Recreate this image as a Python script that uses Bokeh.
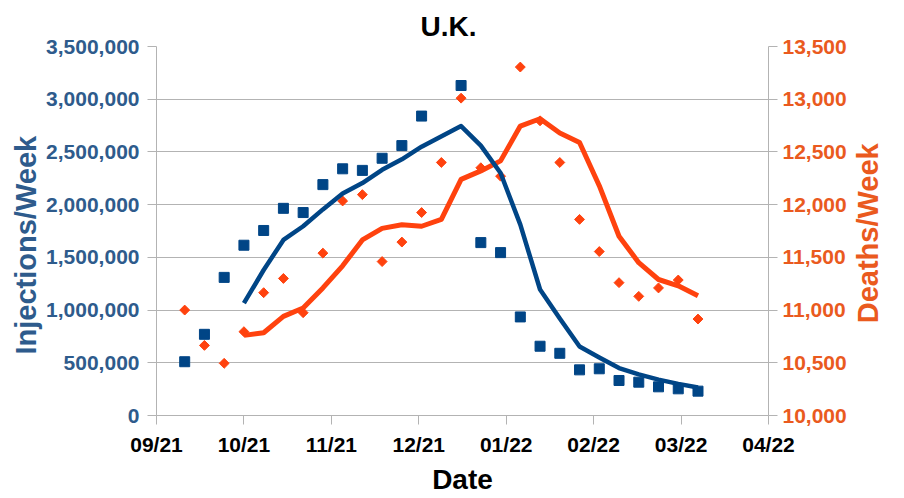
from datetime import date
import numpy as np
from bokeh.plotting import figure
from bokeh.models import Range1d, LinearAxis, FixedTicker, NumeralTickFormatter, Title
from bokeh.embed import file_html
from bokeh.resources import INLINE

# ---------------- data ----------------
axis_start = "2021-09-01"
axis_step_days = 31
x_tick_labels = ["09/21", "10/21", "11/21", "12/21", "01/22", "02/22", "03/22", "04/22"]

week_dates = [
    "2021-09-11", "2021-09-18", "2021-09-25", "2021-10-02", "2021-10-09", "2021-10-16",
    "2021-10-23", "2021-10-30", "2021-11-06", "2021-11-13", "2021-11-20", "2021-11-27",
    "2021-12-04", "2021-12-11", "2021-12-18", "2021-12-25", "2022-01-01", "2022-01-08",
    "2022-01-15", "2022-01-22", "2022-01-29", "2022-02-05", "2022-02-12", "2022-02-19",
    "2022-02-26", "2022-03-05", "2022-03-12",
]

injections = [
    510000, 770000, 1310000, 1615000, 1755000, 1965000,
    1925000, 2190000, 2340000, 2325000, 2440000, 2560000,
    2840000, None, 3130000, 1640000, 1545000, 935000,
    657000, 590000, 433000, 443000, 332000, 316000,
    272000, 253000, 231000,
]

injections_trend = [
    None, None, None, 1065000, 1380000, 1665000,
    1795000, 1955000, 2105000, 2205000, 2330000, 2430000,
    2550000, None, 2745000, 2560000, 2300000, 1810000,
    1195000, 920000, 655000, 550000, 450000, 390000,
    340000, 300000, 265000,
]

deaths = [
    11000, 10665, 10495, 10795, 11165, 11300,
    10975, 11540, 12035, 12095, 11460, 11645,
    11925, 12400, 13010, 12350, 12270, 13305,
    12795, 12400, 11860, 11555, 11260, 11130,
    11210, 11285, 10915,
]

deaths_trend = [
    None, None, None, 10760, 10785, 10940,
    11020, 11210, 11420, 11665, 11775, 11810,
    11795, 11860, 12240, 12320, 12415, 12745,
    12815, 12680, 12590, 12180, 11700, 11450,
    11290, 11230, 11135,
]

inj_ticks = [0, 500000, 1000000, 1500000, 2000000, 2500000, 3000000, 3500000]
death_ticks = [10000, 10500, 11000, 11500, 12000, 12500, 13000, 13500]

title_text = "U.K."
x_title = "Date"
y_left_title = "Injections/Week"
y_right_title = "Deaths/Week"

# ---------------- helpers ----------------
start = date.fromisoformat(axis_start)
days = [(date.fromisoformat(d) - start).days for d in week_dates]
x_ticks = [i * axis_step_days for i in range(len(x_tick_labels))]


def pairs(xs, ys):
    sel = [(x, y) for x, y in zip(xs, ys) if y is not None]
    return [a for a, _ in sel], [b for _, b in sel]


BLUE = "#004586"
ORANGE = "#ff420e"
BLUE_TXT = "#2e5b8c"
ORANGE_TXT = "#ea5a1e"
GRID = "#b3b3b3"
FONT = "Liberation Sans"

p = figure(width=903, height=497,
           x_range=Range1d(x_ticks[0], x_ticks[-1]),
           y_range=Range1d(inj_ticks[0], inj_ticks[-1]),
           output_backend="svg", toolbar_location=None,
           min_border_left=156, min_border_right=135,
           min_border_top=46, min_border_bottom=82)
p.extra_y_ranges = {"deaths": Range1d(death_ticks[0], death_ticks[-1])}
p.outline_line_color = None
p.background_fill_color = "white"
p.border_fill_color = "white"

# title
p.title.text = title_text
p.title.align = "left"
p.title.offset = 264
p.title.vertical_align = "top"
p.title.standoff = 6
p.title.text_font = FONT
p.title.text_font_size = "28px"
p.title.text_font_style = "bold"
p.title.text_color = "black"

# axes
right_axis = LinearAxis(y_range_name="deaths")
p.add_layout(right_axis, "right")

xa = p.xaxis[0]
xa.ticker = FixedTicker(ticks=x_ticks)
xa.major_label_overrides = {t: l for t, l in zip(x_ticks, x_tick_labels)}
xa.major_label_text_color = "black"
xa.axis_label = x_title
xa.axis_label_text_color = "black"

ya = p.yaxis[0]
ya.ticker = FixedTicker(ticks=inj_ticks)
ya.formatter = NumeralTickFormatter(format="0,0")
ya.major_label_text_color = BLUE_TXT

right_axis.ticker = FixedTicker(ticks=death_ticks)
right_axis.formatter = NumeralTickFormatter(format="0,0")
right_axis.major_label_text_color = ORANGE_TXT

for ax in (xa, ya, right_axis):
    ax.axis_line_color = GRID
    ax.axis_line_width = 1
    ax.major_tick_line_color = GRID
    ax.major_tick_out = 9
    ax.major_tick_in = 0
    ax.minor_tick_line_color = None
    ax.major_label_text_font = FONT
    ax.major_label_text_font_size = "21px"
    ax.major_label_text_font_style = "bold"
    ax.axis_label_text_font = FONT
    ax.axis_label_text_font_size = "28px"
    ax.axis_label_text_font_style = "bold"

ya.major_label_standoff = 8
right_axis.major_label_standoff = 5
xa.major_label_standoff = 8
xa.axis_label_standoff = 5

p.xgrid.visible = False
p.ygrid.ticker = FixedTicker(ticks=inj_ticks)
p.ygrid.grid_line_color = GRID
p.ygrid.grid_line_width = 1

# left axis title: side title so it can be placed along the axis
left_title = Title(text=y_left_title, align="left", offset=61, standoff=4,
                   text_font=FONT, text_font_size="29px", text_font_style="bold",
                   text_color=BLUE_TXT)
p.add_layout(left_title, "left")

# right axis title: a label-only axis, text reading bottom-to-top
deaths_span = death_ticks[-1] - death_ticks[0]
right_title_pos = death_ticks[0] + 0.25 * deaths_span
title_axis = LinearAxis(y_range_name="deaths",
                        ticker=FixedTicker(ticks=[right_title_pos]),
                        major_label_overrides={right_title_pos: y_right_title},
                        major_label_orientation=np.pi / 2,
                        axis_line_color=None, major_tick_line_color=None,
                        minor_tick_line_color=None,
                        major_tick_out=0, major_tick_in=0,
                        major_label_standoff=18,
                        major_label_text_font=FONT,
                        major_label_text_font_size="29px",
                        major_label_text_font_style="bold",
                        major_label_text_color=ORANGE_TXT)
p.add_layout(title_axis, "right")

# ---------------- glyphs ----------------
dx, dy = pairs(days, deaths)
p.scatter(dx, dy, marker="square", angle=np.pi / 4, size=7,
          color=ORANGE, y_range_name="deaths")
tx, ty = pairs(days, deaths_trend)
p.line(tx, ty, line_color=ORANGE, line_width=5, line_join="round",
       y_range_name="deaths")

ix, iy = pairs(days, injections)
p.scatter(ix, iy, marker="square", size=10, color=BLUE)
bx, by = pairs(days, injections_trend)
p.line(bx, by, line_color=BLUE, line_width=4.5, line_join="round")

open("out.html", "w").write(file_html(p, INLINE))
